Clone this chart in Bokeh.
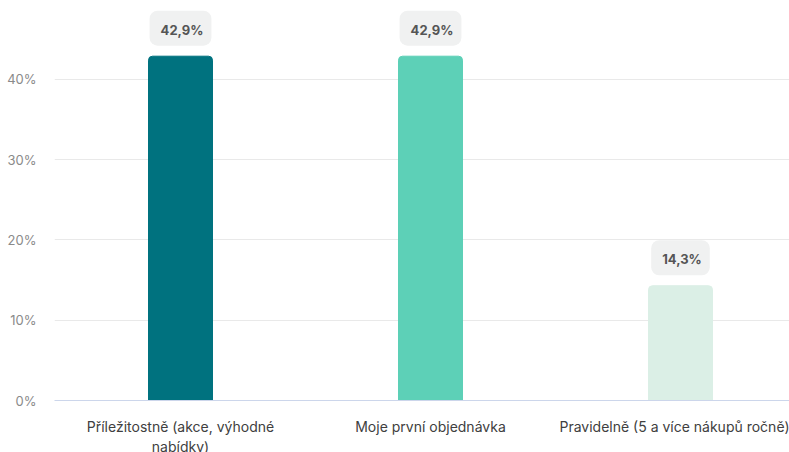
from bokeh.plotting import figure
from bokeh.models import FixedTicker, PrintfTickFormatter, Label, ColumnDataSource, Range1d
from bokeh.embed import file_html
from bokeh.resources import INLINE

categories = ["Příležitostně (akce, výhodné\nnabídky)", "Moje první objednávka", "Pravidelně (5 a více nákupů ročně)"]
values = [42.9, 42.9, 14.3]
colors = ["#00727f", "#5dd0b7", "#dbefe6"]
y_ticks = [0, 10, 20, 30, 40]

FONT = "Inter"
xs = list(range(len(categories)))
src = ColumnDataSource(dict(x=xs, top=values, color=colors))

p = figure(frame_width=735, frame_height=400, output_backend="svg", toolbar_location=None,
           x_range=Range1d(-0.504, 2.436), y_range=Range1d(0, 49.84),
           min_border_left=54, min_border_right=0, min_border_top=0, min_border_bottom=0)
p.outline_line_color = None
p.background_fill_color = "white"
p.border_fill_color = "white"

p.vbar(x="x", top="top", width=0.256, color="color", source=src, border_radius=(4, 4, 0, 0))

# x axis
p.xaxis.ticker = FixedTicker(ticks=xs)
p.xaxis.major_label_overrides = {i: c for i, c in zip(xs, categories)}
p.xaxis.axis_line_color = "#ccd6eb"
p.xaxis.major_tick_line_color = None
p.xaxis.major_tick_out = 0
p.xaxis.minor_tick_line_color = None
p.xaxis.major_label_text_font = FONT
p.xaxis.major_label_text_font_size = "14px"
p.xaxis.major_label_text_color = "#404040"
p.xaxis.major_label_standoff = 17
p.xgrid.grid_line_color = None

# y axis
p.yaxis.ticker = FixedTicker(ticks=y_ticks)
p.yaxis.formatter = PrintfTickFormatter(format="%d%%")
p.yaxis.axis_line_color = None
p.yaxis.major_tick_line_color = None
p.yaxis.major_tick_out = 0
p.yaxis.minor_tick_line_color = None
p.yaxis.major_label_text_font = FONT
p.yaxis.major_label_text_font_size = "13px"
p.yaxis.major_label_text_color = "#8a8a8a"
p.yaxis.major_label_standoff = 18
p.ygrid.grid_line_color = "#e9e9e9"
p.ygrid.ticker = FixedTicker(ticks=y_ticks[1:])

for x, v in zip(xs, values):
    txt = f"{v:.1f}".replace(".", ",") + "%"
    p.add_layout(Label(x=x, y=v, y_offset=28, text=txt, text_align="center",
                       text_baseline="middle", text_font=FONT, text_font_size="13px",
                       text_font_style="bold", text_color="#555555",
                       background_fill_color="#f0f1f1", padding=(11, 8, 11, 8), border_radius=8))

open("out.html", "w").write(file_html(p, INLINE))
